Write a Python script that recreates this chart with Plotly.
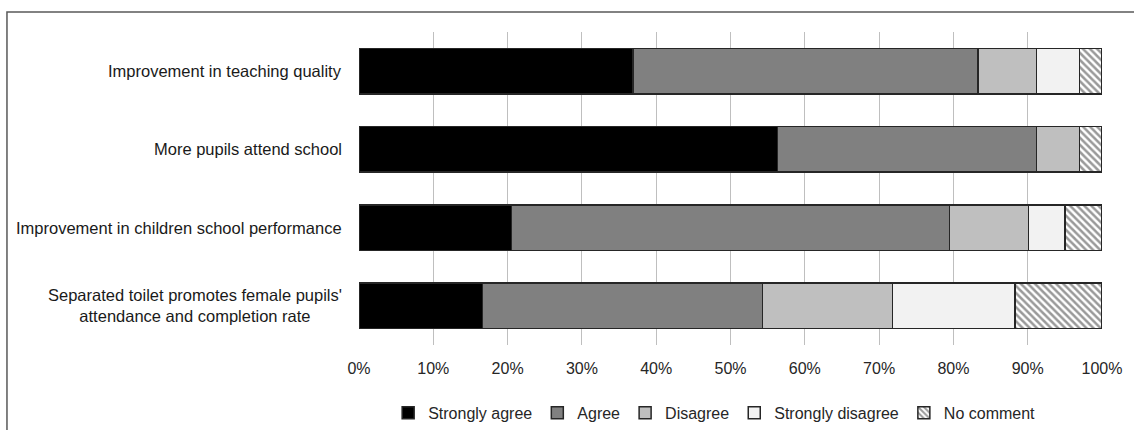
import plotly.graph_objects as go

# Survey statements, listed top to bottom
statements = [
    "Improvement in teaching quality",
    "More pupils attend school",
    "Improvement in children school performance",
    "Separated toilet promotes female pupils'<br>attendance and completion rate",
]

# Share of respondents (%) for each response
strongly_agree = [36.9, 56.3, 20.5, 16.6]
agree = [46.4, 34.9, 59.0, 37.7]
disagree = [7.9, 5.8, 10.6, 17.5]
strongly_disagree = [5.8, 0.0, 4.9, 16.5]
no_comment = [3.0, 3.0, 5.0, 11.7]

x_ticks = list(range(0, 101, 10))

FONT = "Liberation Sans, Arial, sans-serif"

series = [
    ("Strongly agree", strongly_agree, "#000000", None),
    ("Agree", agree, "#808080", None),
    ("Disagree", disagree, "#bfbfbf", None),
    ("Strongly disagree", strongly_disagree, "#f2f2f2", None),
    ("No comment", no_comment, "#ffffff", "\\"),
]

fig = go.Figure()
for name, vals, color, pattern in series:
    marker = dict(color=color, line=dict(color="#262626", width=1.5))
    if pattern:
        marker["pattern"] = dict(shape=pattern, fgcolor="#333333", bgcolor="#ffffff",
                                 size=5, solidity=0.5)
    fig.add_trace(go.Bar(
        y=statements, x=vals, name=name, orientation="h", marker=marker,
    ))

# Category labels, centred line by line to the left of the plot
for s in statements:
    fig.add_annotation(
        x=0, xref="paper", y=s, yref="y", text=s, showarrow=False,
        xanchor="right", xshift=-15, align="center",
        font=dict(family=FONT, size=16.5, color="#1a1a1a"),
    )

# Frame around the whole chart
fig.add_shape(type="rect", xref="paper", yref="paper",
              x0=-0.4738, x1=1.06, y0=-0.32, y1=1.0639,
              line=dict(color="#595959", width=1.5), layer="below")

fig.update_layout(
    barmode="stack",
    bargap=0.417,
    width=1134, height=430,
    margin=dict(l=359, r=32, t=32, b=85),
    paper_bgcolor="white", plot_bgcolor="white",
    font=dict(family=FONT, size=16, color="#262626"),
    xaxis=dict(
        range=[0, 100], tickvals=x_ticks, ticktext=[f"{t}%" for t in x_ticks],
        showgrid=True, gridcolor="#bfbfbf", gridwidth=1, zeroline=False,
        showline=False, ticks="", ticklabelstandoff=12,
        tickfont=dict(family=FONT, size=16, color="#262626"),
    ),
    yaxis=dict(
        categoryorder="array", categoryarray=statements, autorange="reversed",
        showticklabels=False, showgrid=False, zeroline=False, showline=False,
    ),
    legend=dict(
        orientation="h", xref="paper", x=0.478, xanchor="center",
        yref="container", y=0.04, yanchor="middle",
        font=dict(family=FONT, size=16, color="#262626"), traceorder="normal",
        itemwidth=30,
    ),
)

fig.write_html("out.html")
